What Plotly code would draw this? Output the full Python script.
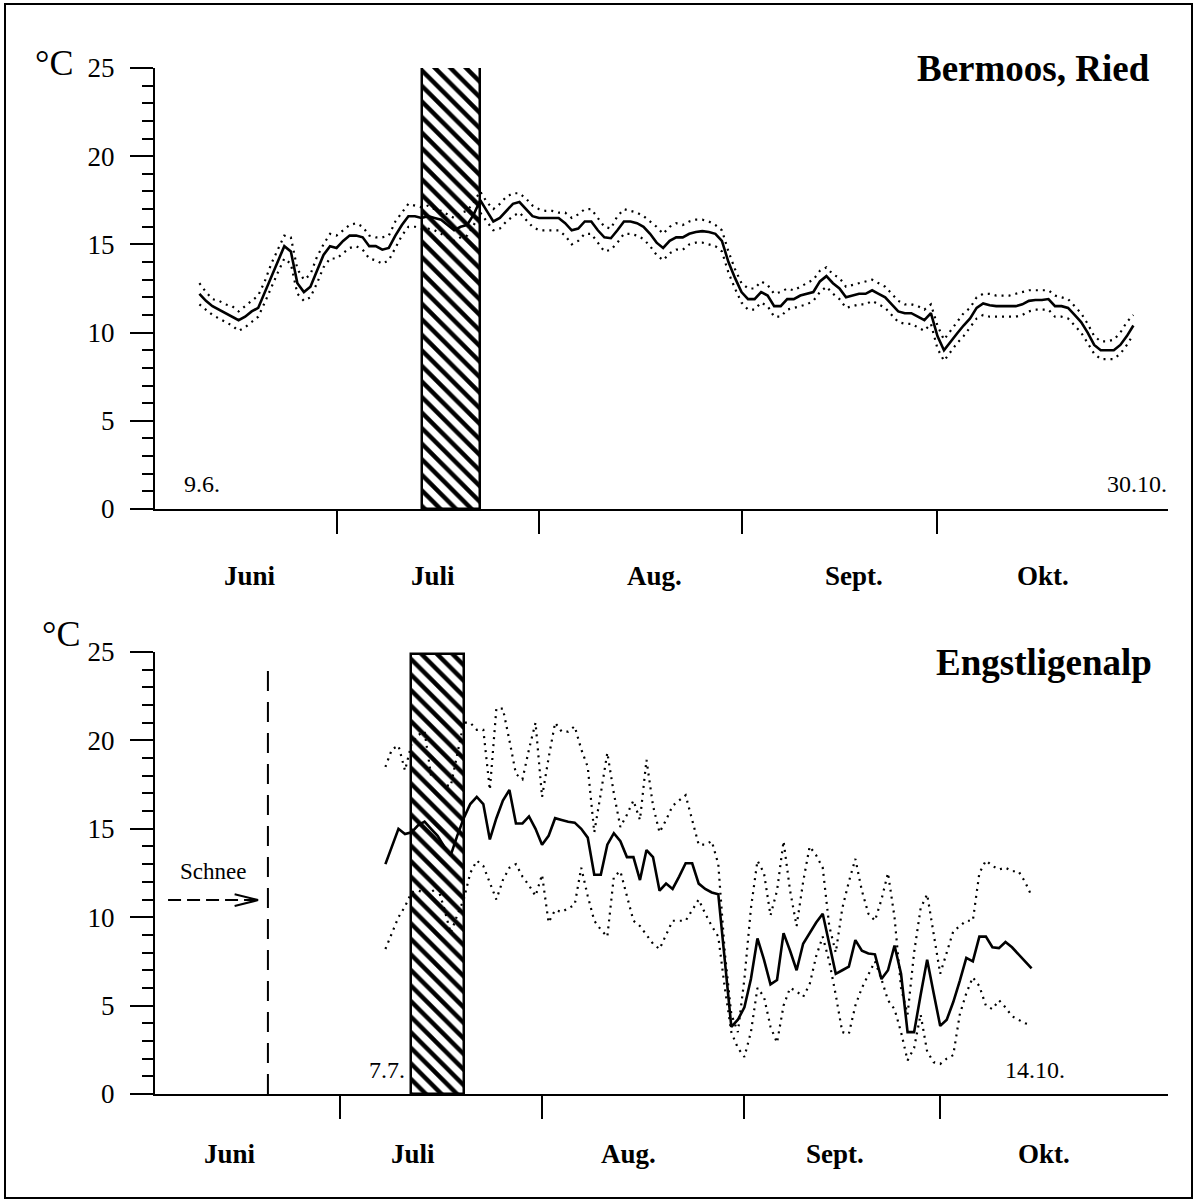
import numpy as np
import plotly.graph_objects as go

# ---------------- DATA ----------------
# x = day number of the season (1 = 1 June; month boundaries at 30, 61, 92, 122)
MONTH_BOUNDS = [30, 61, 92, 122]
MONTHS = ["Juni", "Juli", "Aug.", "Sept.", "Okt."]

# --- Bermoos, Ried : 9.6. - 30.10. ---
TOP_START = 9
top_mean = [12.2, 11.8, 11.5, 11.3, 11.1, 10.9, 10.7, 10.9, 11.2, 11.4,
            12.3, 13.2, 14.1, 14.9, 14.6, 12.8, 12.3, 12.6, 13.5, 14.4,
            14.9, 14.8, 15.2, 15.5, 15.5, 15.4, 14.9, 14.9, 14.7, 14.8,
            15.5, 16.1, 16.6, 16.6, 16.5, 16.6, 16.5, 16.4, 16.1, 15.8,
            16.0, 16.1, 16.7, 17.5, 16.9, 16.3, 16.5, 16.9, 17.3, 17.4,
            17.0, 16.6, 16.5, 16.5, 16.5, 16.5, 16.2, 15.8, 15.9, 16.3,
            16.3, 15.8, 15.4, 15.35, 15.8, 16.3, 16.3, 16.2, 16.0, 15.6,
            15.1, 14.8, 15.2, 15.4, 15.4, 15.6, 15.7, 15.75, 15.7, 15.6,
            15.2, 14.0, 13.1, 12.3, 11.9, 11.9, 12.3, 12.1, 11.5, 11.5,
            11.9, 11.9, 12.1, 12.2, 12.3, 12.9, 13.2, 12.8, 12.5, 12.0,
            12.1, 12.2, 12.2, 12.4, 12.2, 12.0, 11.6, 11.2, 11.1, 11.1,
            10.9, 10.7, 11.1, 9.8, 9.0, 9.5, 9.95, 10.4, 10.8, 11.4,
            11.65, 11.55, 11.5, 11.5, 11.5, 11.5, 11.6, 11.8, 11.85, 11.85,
            11.9, 11.5, 11.5, 11.4, 11.0, 10.6, 10.0, 9.3, 9.0, 9.0,
            9.0, 9.3, 9.8, 10.4]
top_max = [12.8, 12.3, 11.9, 11.8, 11.6, 11.5, 11.2, 11.5, 11.8, 12.1,
           12.9, 13.9, 14.7, 15.5, 15.4, 13.6, 13.0, 13.3, 14.3, 15.0,
           15.6, 15.5, 15.8, 16.1, 16.2, 16.0, 15.5, 15.4, 15.4, 15.5,
           16.3, 16.8, 17.3, 17.2, 17.1, 17.2, 17.0, 16.9, 16.7, 16.5,
           16.8, 16.9, 17.4, 18.0, 17.4, 17.0, 17.3, 17.7, 17.9, 17.9,
           17.6, 17.2, 17.0, 16.9, 16.9, 16.8, 16.8, 16.5, 16.7, 17.0,
           17.0, 16.5, 16.0, 15.9, 16.6, 17.0, 16.9, 16.8, 16.6, 16.3,
           16.0, 15.6, 16.0, 16.2, 16.1, 16.3, 16.4, 16.4, 16.3, 16.1,
           15.8, 14.6, 13.6, 12.8, 12.5, 12.5, 12.9, 12.7, 12.2, 12.3,
           12.5, 12.4, 12.6, 12.8, 13.0, 13.5, 13.7, 13.3, 13.1, 12.6,
           12.7, 12.8, 12.9, 13.0, 12.8, 12.6, 12.2, 11.8, 11.6, 11.6,
           11.5, 11.3, 11.6, 10.4, 9.6, 10.1, 10.6, 11.1, 11.4, 12.0,
           12.2, 12.2, 12.1, 12.1, 12.1, 12.2, 12.3, 12.4, 12.4, 12.4,
           12.4, 12.1, 12.0, 11.9, 11.5, 11.1, 10.5, 9.8, 9.5, 9.5,
           9.6, 10.0, 10.6, 11.0]
top_min = [11.6, 11.3, 11.0, 10.8, 10.6, 10.4, 10.1, 10.3, 10.6, 10.9,
           11.7, 12.6, 13.4, 14.2, 13.9, 12.2, 11.8, 12.0, 12.8, 13.7,
           14.2, 14.2, 14.5, 14.8, 14.9, 14.7, 14.2, 14.1, 13.9, 14.1,
           14.8, 15.5, 16.0, 16.0, 15.9, 15.9, 15.8, 15.6, 15.4, 15.2,
           15.4, 15.5, 16.1, 16.8, 16.3, 15.8, 15.9, 16.3, 16.6, 16.8,
           16.4, 16.0, 15.8, 15.8, 15.8, 15.8, 15.5, 15.0, 15.2, 15.6,
           15.6, 15.1, 14.6, 14.7, 15.1, 15.6, 15.6, 15.5, 15.3, 14.9,
           14.4, 14.1, 14.5, 14.7, 14.7, 15.0, 15.1, 15.1, 15.0, 14.9,
           14.6, 13.4, 12.5, 11.7, 11.3, 11.3, 11.7, 11.5, 10.9, 10.9,
           11.3, 11.4, 11.5, 11.6, 11.8, 12.3, 12.6, 12.2, 11.9, 11.4,
           11.5, 11.6, 11.6, 11.8, 11.6, 11.4, 11.0, 10.6, 10.5, 10.5,
           10.3, 10.1, 10.5, 9.1, 8.4, 8.9, 9.4, 9.8, 10.3, 10.8,
           11.0, 10.9, 10.9, 10.9, 10.9, 10.9, 11.0, 11.2, 11.3, 11.3,
           11.3, 10.9, 10.9, 10.8, 10.4, 10.0, 9.4, 8.8, 8.5, 8.5,
           8.5, 8.8, 9.3, 9.9]
top_period = [43.06, 51.93]     # hatched period (day numbers)
top_period_height = 25.2

# --- Engstligenalp : 7.7. - 14.10. ---
BOT_START = 37
bot_mean = [13.0, 14.0, 15.0, 14.7, 14.8, 15.2, 15.4, 15.0, 14.6, 14.0,
            13.5, 14.6, 15.6, 16.4, 16.8, 16.4, 14.4, 15.6, 16.6, 17.2,
            15.3, 15.3, 15.7, 15.0, 14.1, 14.6, 15.6, 15.5, 15.4, 15.35,
            15.0, 14.5, 12.4, 12.4, 14.1, 14.75, 14.3, 13.4, 13.4, 12.1,
            13.8, 13.4, 11.5, 11.9, 11.6, 12.3, 13.05, 13.05, 11.9, 11.6,
            11.4, 11.3, 7.6, 3.8, 4.2, 4.9, 6.5, 8.8, 7.6, 6.2,
            6.45, 9.1, 8.1, 7.0, 8.5, 9.1, 9.7, 10.2, 8.5, 6.8,
            7.0, 7.2, 8.7, 8.1, 7.95, 7.9, 6.5, 7.0, 8.4, 6.8,
            3.5, 3.5, 5.6, 7.6, 5.7, 3.85, 4.2, 5.2, 6.4, 7.7,
            7.5, 8.9, 8.9, 8.3, 8.25, 8.6, 8.3, 7.9, 7.5, 7.1]
bot_max = [18.5, 19.5, 19.7, 18.3, 19.8, 20.3, 20.5, 18.0, 17.8, 17.5,
           17.4, 19.3, 21.0, 21.0, 20.6, 20.6, 17.2, 21.8, 21.8, 20.0,
           18.1, 17.8, 19.5, 21.0, 16.8, 19.0, 21.0, 20.5, 20.5, 20.8,
           19.5, 18.5, 14.8, 17.0, 19.3, 17.0, 15.1, 15.8, 16.6, 15.5,
           18.9, 16.3, 14.8, 15.5, 16.3, 16.6, 16.9, 15.5, 14.1, 14.1,
           14.3, 13.0, 8.0, 4.5, 3.5, 6.5, 10.5, 13.2, 12.5, 10.1,
           11.5, 14.3, 11.5, 9.5, 12.0, 14.0, 13.5, 12.8, 9.5, 8.0,
           10.5, 12.0, 13.3, 11.5, 10.2, 9.8, 11.0, 12.5, 10.0, 6.0,
           4.5, 8.0, 10.5, 11.3, 9.0, 6.8, 8.0, 9.2, 9.5, 9.8,
           9.8, 12.5, 13.2, 12.9, 12.7, 12.8, 12.6, 12.6, 12.0, 11.2]
bot_min = [8.2, 9.1, 10.0, 10.6, 11.4, 11.5, 11.4, 11.4, 11.7, 10.5,
           9.1, 10.1, 11.0, 12.5, 13.2, 12.9, 12.0, 11.0, 12.1, 12.8,
           13.0, 12.3, 11.8, 11.2, 12.4, 9.7, 10.4, 10.3, 10.5, 10.7,
           12.8, 11.2, 9.8, 9.3, 8.9, 12.3, 12.6, 11.2, 9.8, 9.5,
           9.0, 8.5, 8.2, 9.0, 9.8, 9.8, 9.8, 10.4, 11.0, 10.2,
           9.5, 8.9, 6.0, 3.5, 2.6, 2.1, 3.5, 6.0, 5.5, 3.8,
           2.9, 5.0, 6.0, 5.8, 5.5, 6.2, 7.8, 8.9, 7.5, 5.6,
           3.5, 3.4, 5.0, 6.0, 6.8, 7.5, 6.5, 5.3, 4.8, 3.5,
           1.9, 2.6, 4.5, 2.4, 1.8, 1.7, 2.0, 2.2, 4.5, 5.7,
           6.6, 6.1, 5.0, 4.8, 5.3, 4.9, 4.4, 4.2, 4.0, 3.9]
bot_period = [40.87, 49.1]
bot_period_height = 24.9
snow_day = 19.0          # end of snow cover (dashed line)

# ---------------- FIGURE ----------------
FONT = "Liberation Serif"
W, H = 1197, 1203
L, R, T, B = 155, 29, 68, 109
TOP_XR = [2.2, 157.3]
BOT_XR = [1.7, 156.9]

x_top = np.arange(TOP_START, TOP_START + len(top_mean))
x_bot = np.arange(BOT_START, BOT_START + len(bot_mean))

fig = go.Figure()

def add_panel(xa, ya, x, mean, mx, mn, period, ph):
    fig.add_trace(go.Bar(
        x=[(period[0] + period[1]) / 2], y=[ph], width=[period[1] - period[0]],
        xaxis=xa, yaxis=ya, cliponaxis=False,
        marker=dict(color="white", line=dict(color="black", width=2.5),
                    pattern=dict(shape="\\", fgcolor="black", bgcolor="white",
                                 fgopacity=1, size=11, solidity=0.4)),
        showlegend=False, hoverinfo="skip"))
    for arr in (mx, mn):
        fig.add_trace(go.Scatter(x=x, y=arr, mode="lines", xaxis=xa, yaxis=ya,
                                 line=dict(color="black", width=2.2, dash="2px,5px"),
                                 showlegend=False))
    fig.add_trace(go.Scatter(x=x, y=mean, mode="lines", xaxis=xa, yaxis=ya,
                             line=dict(color="black", width=2.6),
                             showlegend=False))

add_panel("x", "y", x_top, top_mean, top_max, top_min, top_period, top_period_height)
add_panel("x2", "y2", x_bot, bot_mean, bot_max, bot_min, bot_period, bot_period_height)

plot_h = H - T - B
top_dom = [(1094 - 509) / plot_h, 1.0]
bot_dom = [0.0, (1094 - 652) / plot_h]

yaxis_common = dict(range=[0, 25], tickvals=[0, 5, 10, 15, 20, 25],
                    ticks="outside", ticklen=23, tickwidth=2, tickcolor="black",
                    showline=True, linewidth=2, linecolor="black",
                    showgrid=False, zeroline=False, ticklabelstandoff=10,
                    tickfont=dict(family=FONT, size=27, color="black"),
                    minor=dict(dtick=1, ticks="outside", ticklen=11, tickwidth=1.6,
                               tickcolor="black", showgrid=False))
xaxis_common = dict(tickvals=MONTH_BOUNDS, ticks="outside", ticklen=23, tickwidth=2,
                    tickcolor="black", showticklabels=False, showline=True,
                    linewidth=2, linecolor="black", showgrid=False, zeroline=False)

fig.update_layout(
    width=W, height=H, margin=dict(l=L, r=R, t=T, b=B),
    paper_bgcolor="white", plot_bgcolor="white", bargap=0,
    xaxis=dict(domain=[0, 1], anchor="y", range=TOP_XR, **xaxis_common),
    yaxis=dict(domain=top_dom, anchor="x", **yaxis_common),
    xaxis2=dict(domain=[0, 1], anchor="y2", range=BOT_XR, **xaxis_common),
    yaxis2=dict(domain=bot_dom, anchor="x2", **yaxis_common),
)

def to_paper(x, y, panel):
    xr = TOP_XR if panel == "top" else BOT_XR
    dom = top_dom if panel == "top" else bot_dom
    px = (x - xr[0]) / (xr[1] - xr[0])
    py = dom[0] + y / 25.0 * (dom[1] - dom[0])
    return px, py

ann = []
def text(x, y, s, size, panel, bold=False, xanchor="center", yanchor="middle"):
    px, py = to_paper(x, y, panel)
    ann.append(dict(x=px, y=py, xref="paper", yref="paper",
                    text=("<b>%s</b>" % s) if bold else s,
                    showarrow=False, xanchor=xanchor, yanchor=yanchor,
                    font=dict(family=FONT, size=size, color="black")))

# month labels
top_month_x = [16.7, 44.7, 78.7, 109.3, 138.1]
bot_month_x = [13.2, 41.3, 74.3, 105.9, 137.9]
for m, xm in zip(MONTHS, top_month_x):
    text(xm, -3.8, m, 27, "top", bold=True)
for m, xm in zip(MONTHS, bot_month_x):
    text(xm, -3.4, m, 27, "bot", bold=True)

# titles
text(154.8, 25.0, "Bermoos, Ried", 37, "top", bold=True, xanchor="right")
text(154.8, 24.4, "Engstligenalp", 37, "bot", bold=True, xanchor="right")

# degree labels
text(-13.3, 25.3, "°C", 36, "top")
text(-12.7, 26.0, "°C", 36, "bot")

# start / end dates
text(9.4, 1.4, "9.6.", 24, "top")
text(152.6, 1.4, "30.10.", 24, "top")
text(37.2, 1.35, "7.7.", 24, "bot")
text(136.5, 1.35, "14.10.", 24, "bot")
text(10.6, 12.6, "Schnee", 23, "bot")

fig.update_layout(annotations=ann)

shapes = [
    # snow end dashed line
    dict(type="line", xref="x2", yref="y2", x0=snow_day, x1=snow_day, y0=0, y1=24.4,
         line=dict(color="black", width=2, dash="20px,11px")),
    # dashed arrow shaft
    dict(type="line", xref="x2", yref="y2", x0=3.7, x1=17.4, y0=10.97, y1=10.97,
         line=dict(color="black", width=2, dash="13px,6px")),
    # arrow head
    dict(type="line", xref="x2", yref="y2", x0=13.9, x1=17.5, y0=11.3, y1=10.97,
         line=dict(color="black", width=2)),
    dict(type="line", xref="x2", yref="y2", x0=13.9, x1=17.5, y0=10.63, y1=10.97,
         line=dict(color="black", width=2)),
    # outer frame
    dict(type="rect", xref="paper", yref="paper",
         x0=(5 - L) / (W - L - R), x1=(1192 - L) / (W - L - R),
         y0=(1094 - 1198) / plot_h, y1=(1094 - 4) / plot_h,
         line=dict(color="black", width=2), fillcolor="rgba(0,0,0,0)"),
]
fig.update_layout(shapes=shapes)

fig.write_html("out.html",
               config={"displayModeBar": False},
               post_script="document.body.style.margin='0px';"
                           "document.body.style.overflow='hidden';")
